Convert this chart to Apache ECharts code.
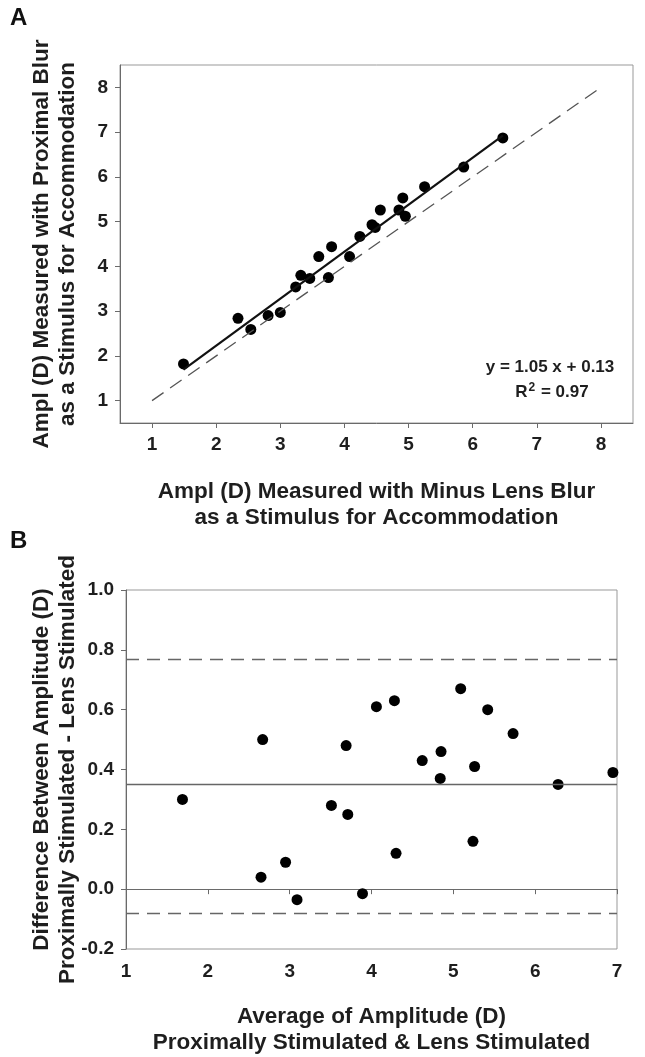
<!DOCTYPE html>
<html lang="en">
<head>
    <meta charset="UTF-8">
    <title>Amplitude comparison</title>
    <script src="https://cdn.jsdelivr.net/npm/echarts@6.0.0/dist/echarts.min.js"></script>
</head>
<body style="margin: 0; background: #fff;">
<div id="container" style="width: 645px; height: 1057px;"></div>
<script type="text/javascript">

    // panel A: amplitude with minus lens blur (x) vs proximal blur (y)
    const lensAmpl = [1.49, 2.34, 2.54, 2.81, 3.00, 3.24, 3.32, 3.46, 3.60, 3.75, 3.80,
        4.08, 4.24, 4.43, 4.48, 4.56, 4.85, 4.91, 4.95, 5.25, 5.86, 6.47];
    const proxAmpl = [1.82, 2.84, 2.59, 2.90, 2.97, 3.54, 3.80, 3.73, 4.22, 3.75, 4.44,
        4.22, 4.67, 4.93, 4.87, 5.26, 5.26, 5.53, 5.12, 5.78, 6.22, 6.87];
    const fitSlope = 1.05;
    const fitIntercept = 0.13;
    const fitFrom = 1.49;
    const fitTo = 6.47;
    const identityLine = [1, 8];
    const ticksA = [1, 2, 3, 4, 5, 6, 7, 8];

    // panel B: Bland-Altman
    const avgAmpl = [1.69, 2.65, 2.67, 2.95, 3.09, 3.51, 3.69, 3.71, 3.89, 4.06, 4.28,
        4.30, 4.62, 4.84, 4.85, 5.09, 5.24, 5.26, 5.42, 5.73, 6.28, 6.95];
    const diffAmpl = [0.30, 0.04, 0.50, 0.09, -0.035, 0.28, 0.48, 0.25, -0.015, 0.61, 0.63,
        0.12, 0.43, 0.37, 0.46, 0.67, 0.16, 0.41, 0.60, 0.52, 0.35, 0.39];
    const meanDiff = 0.348;
    const upperLimit = 0.767;
    const lowerLimit = -0.077;

    const font = "'Liberation Sans', Arial, sans-serif";
    const textColor = '#1e1e1e';
    const axisGray = '#6a6a6a';

    let pairsA = lensAmpl.map(function (x, i) { return [x, proxAmpl[i]]; });
    let pairsB = avgAmpl.map(function (x, i) { return [x, diffAmpl[i]]; });
    let fitLine = [[fitFrom, fitSlope * fitFrom + fitIntercept], [fitTo, fitSlope * fitTo + fitIntercept]];

    let tickLabel = {fontSize: 19, fontWeight: 'bold', color: textColor, fontFamily: font};
    let nameStyle = {fontSize: 22.5, fontWeight: 'bold', color: textColor, fontFamily: font, lineHeight: 26};

    function limitLine(v, type) {
        return {
            yAxis: v,
            lineStyle: {color: '#666', width: 1.3, type: type}
        };
    }

    let myChart = echarts.init(document.getElementById('container'));
    let option = {
        animation: false,
        backgroundColor: '#fff',
        textStyle: {fontFamily: font},
        grid: [
            {left: 120, right: 12, top: 65, bottom: 634, show: true, borderColor: '#999', borderWidth: 1},
            {left: 126, right: 28, top: 590, bottom: 106, show: true, borderColor: '#999', borderWidth: 1}
        ],
        xAxis: [{
            gridIndex: 0, type: 'value', min: 0.5, max: 8.5,
            name: 'Ampl (D) Measured with Minus Lens Blur\nas a Stimulus for Accommodation',
            nameLocation: 'middle', nameGap: 56, nameTextStyle: nameStyle, nameMoveOverlap: false,
            axisLine: {show: true, lineStyle: {color: axisGray, width: 1}},
            axisTick: {show: true, length: 5, customValues: ticksA, lineStyle: {color: axisGray}},
            axisLabel: Object.assign({margin: 12, customValues: ticksA}, tickLabel),
            splitLine: {show: false}
        }, {
            gridIndex: 1, type: 'value', min: 1, max: 7, interval: 1,
            name: 'Average of Amplitude (D)\nProximally Stimulated & Lens Stimulated',
            nameLocation: 'middle', nameGap: 55, nameTextStyle: nameStyle, nameMoveOverlap: false,
            axisLine: {show: true, lineStyle: {color: axisGray, width: 1}},
            axisTick: {show: true, length: 5, lineStyle: {color: axisGray}},
            axisLabel: Object.assign({margin: 13}, tickLabel),
            splitLine: {show: false}
        }],
        yAxis: [{
            gridIndex: 0, type: 'value', min: 0.5, max: 8.5,
            name: 'Ampl (D) Measured with Proximal Blur\nas a Stimulus for Accommodation',
            nameLocation: 'middle', nameGap: 39, nameTextStyle: nameStyle, nameMoveOverlap: false,
            axisLine: {show: true, lineStyle: {color: axisGray, width: 1}},
            axisTick: {show: true, length: 5, customValues: ticksA, lineStyle: {color: axisGray}},
            axisLabel: Object.assign({margin: 12, customValues: ticksA}, tickLabel),
            splitLine: {show: false}
        }, {
            gridIndex: 1, type: 'value', min: -0.2, max: 1.0, interval: 0.2,
            name: 'Difference Between Amplitude (D)\nProximally Stimulated - Lens Stimulated',
            nameLocation: 'middle', nameGap: 45, nameTextStyle: nameStyle, nameMoveOverlap: false,
            axisLine: {show: true, lineStyle: {color: axisGray, width: 1}},
            axisTick: {show: true, length: 5, lineStyle: {color: axisGray}},
            axisLabel: Object.assign({
                margin: 12,
                formatter: function (v) { return v.toFixed(1); }
            }, tickLabel),
            splitLine: {show: false}
        }],
        series: [{
            type: 'line',
            xAxisIndex: 0, yAxisIndex: 0,
            data: [[identityLine[0], identityLine[0]], [identityLine[1], identityLine[1]]],
            symbol: 'none', silent: true,
            lineStyle: {color: '#555', width: 1.3, type: [14, 8]}
        }, {
            type: 'line',
            xAxisIndex: 0, yAxisIndex: 0,
            data: fitLine,
            symbol: 'none', silent: true,
            lineStyle: {color: '#111', width: 2.2}
        }, {
            type: 'scatter',
            xAxisIndex: 0, yAxisIndex: 0,
            data: pairsA,
            symbolSize: 11,
            itemStyle: {color: '#000', opacity: 1}
        }, {
            type: 'scatter',
            xAxisIndex: 1, yAxisIndex: 1,
            data: pairsB,
            symbolSize: 11,
            itemStyle: {color: '#000', opacity: 1},
            markLine: {
                silent: true,
                symbol: 'none',
                label: {show: false},
                data: [
                    limitLine(upperLimit, [13, 8]),
                    limitLine(meanDiff, 'solid'),
                    limitLine(lowerLimit, [13, 8])
                ]
            }
        }],
        graphic: [{
            type: 'text', left: 10, top: 6,
            style: {text: 'A', fontSize: 24, fontWeight: 'bold', fill: '#111', fontFamily: font}
        }, {
            type: 'text', left: 10, top: 529,
            style: {text: 'B', fontSize: 24, fontWeight: 'bold', fill: '#111', fontFamily: font}
        }, {
            type: 'text', x: 550, y: 367,
            style: {
                text: 'y = 1.05 x + 0.13', fontSize: 17, fontWeight: 'bold', fill: textColor,
                fontFamily: font, align: 'center', verticalAlign: 'middle'
            }
        }, {
            type: 'text', x: 552, y: 392,
            style: {
                text: '{n|R}{s|2}{n| = 0.97}',
                align: 'center', verticalAlign: 'middle',
                rich: {
                    n: {fontSize: 17, fontWeight: 'bold', fill: textColor, fontFamily: font, lineHeight: 20},
                    s: {fontSize: 12, fontWeight: 'bold', fill: textColor, fontFamily: font, lineHeight: 20, padding: [0, 1, 9, 1]}
                }
            }
        }]
    };
    myChart.setOption(option);

</script>
</body>
</html>
